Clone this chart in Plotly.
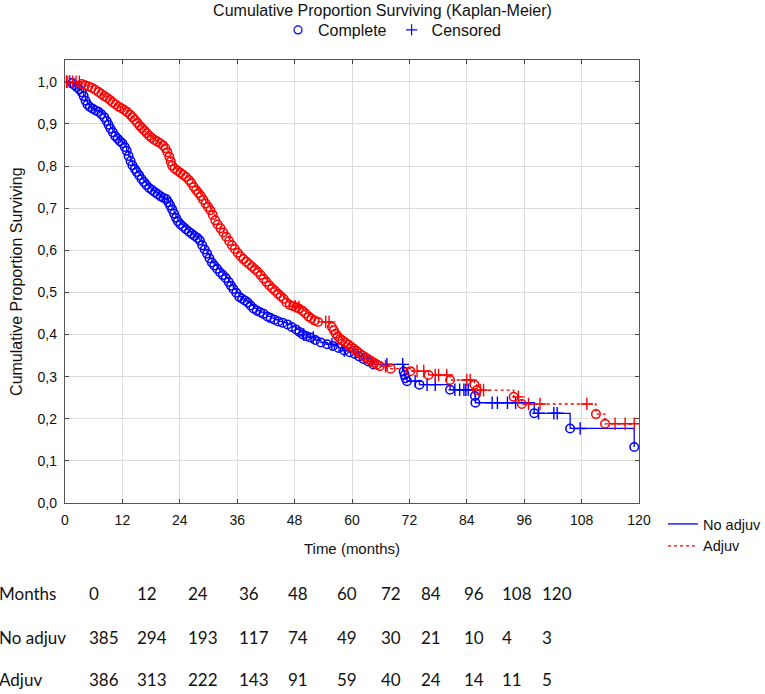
import plotly.graph_objects as go

# ---------------- data ----------------
no_adj_event_t = [1.5, 2.0, 2.5, 3.0, 3.5, 3.9, 4.3, 4.7, 5.2, 5.8, 6.4, 7.0, 7.6, 8.2, 8.7, 9.1, 9.5,
                  10.0, 10.5, 11.0, 11.5, 12.0, 12.5, 12.9, 13.3, 13.7, 14.1, 14.6, 15.0, 15.5, 16.0,
                  16.5, 17.0, 17.6, 18.2, 18.8, 19.4, 20.0, 20.6, 21.2, 21.6, 22.0, 22.4, 22.8, 23.2,
                  23.6, 24.1, 24.7, 25.3, 25.9, 26.5, 27.1, 27.7, 28.2, 28.7, 29.2, 29.7, 30.2, 30.7,
                  31.2, 31.8, 32.4, 33.0, 33.6, 34.2, 34.7, 35.2, 35.8, 36.4, 37.0, 37.6, 38.2, 38.8,
                  39.4, 40.1, 40.8, 41.5, 42.3, 43.0, 43.8, 44.6, 45.5, 46.5, 47.4, 48.3, 49.0, 49.7,
                  50.5, 51.3, 52.3, 53.5, 54.8, 56.0, 57.2, 58.4, 59.5, 60.6, 61.5, 62.4, 63.4, 64.5,
                  70.8, 71.0, 71.2, 71.5, 74.1, 80.5, 85.7, 85.8, 98.1, 105.6, 119.0]
no_adj_event_s = [0.997, 0.992, 0.987, 0.982, 0.975, 0.966, 0.955, 0.946, 0.940, 0.936, 0.932, 0.929,
                  0.923, 0.916, 0.907, 0.898, 0.889, 0.880, 0.871, 0.865, 0.859, 0.854, 0.845, 0.836,
                  0.824, 0.812, 0.802, 0.793, 0.786, 0.778, 0.769, 0.762, 0.755, 0.748, 0.743, 0.738,
                  0.733, 0.728, 0.724, 0.721, 0.714, 0.706, 0.697, 0.687, 0.677, 0.669, 0.662, 0.656,
                  0.650, 0.644, 0.639, 0.634, 0.629, 0.623, 0.612, 0.602, 0.592, 0.581, 0.571, 0.564,
                  0.556, 0.548, 0.541, 0.534, 0.525, 0.516, 0.508, 0.499, 0.490, 0.485, 0.481, 0.476,
                  0.469, 0.462, 0.457, 0.453, 0.449, 0.443, 0.439, 0.435, 0.431, 0.428, 0.424, 0.418,
                  0.412, 0.406, 0.400, 0.396, 0.393, 0.387, 0.381, 0.377, 0.373, 0.368, 0.362, 0.358,
                  0.354, 0.348, 0.342, 0.336, 0.329, 0.312, 0.304, 0.296, 0.289, 0.281, 0.269, 0.254,
                  0.238, 0.213, 0.177, 0.133]
no_adj_cens_t = [0.4, 1.0, 49.9, 51.9, 55.8, 58.4, 67.3, 70.6, 73.2, 75.7, 77.4, 81.5, 82.5, 83.4,
                 83.8, 84.3, 89.3, 90.4, 92.5, 94.2, 99.0, 102.2, 102.9, 107.7]

adj_event_t = [3.5, 4.2, 4.9, 5.6, 6.3, 7.0, 7.6, 8.2, 8.8, 9.4, 10.0, 10.6, 11.2, 11.8, 12.4, 13.0,
               13.6, 14.1, 14.6, 15.1, 15.6, 16.1, 16.6, 17.1, 17.6, 18.1, 18.7, 19.3, 19.9, 20.5,
               21.0, 21.4, 21.8, 22.1, 22.4, 22.9, 23.5, 24.1, 24.7, 25.3, 25.9, 26.4, 26.9, 27.4,
               27.9, 28.4, 28.9, 29.4, 29.9, 30.4, 30.9, 31.4, 31.9, 32.5, 33.1, 33.7, 34.3, 34.9,
               35.5, 36.1, 36.7, 37.3, 37.9, 38.5, 39.1, 39.7, 40.3, 40.9, 41.5, 42.1, 42.7, 43.3,
               43.9, 44.5, 45.1, 45.7, 46.3, 47.0, 47.7, 48.4, 49.0, 49.7, 50.3, 50.9, 51.5, 52.2,
               52.9, 55.8, 56.2, 56.6, 57.0, 57.5, 58.0, 58.6, 59.2, 59.8, 60.4, 61.0, 61.6, 62.2,
               62.8, 63.4, 64.0, 64.6, 65.2, 65.8, 68.1, 72.2, 76.0, 80.5, 85.6, 86.1, 93.8, 95.5,
               111.0, 112.9]
adj_event_s = [0.995, 0.992, 0.989, 0.986, 0.981, 0.976, 0.971, 0.966, 0.962, 0.957, 0.951, 0.946,
               0.941, 0.937, 0.933, 0.928, 0.922, 0.916, 0.910, 0.903, 0.896, 0.890, 0.884, 0.878,
               0.872, 0.867, 0.862, 0.858, 0.854, 0.849, 0.842, 0.833, 0.822, 0.811, 0.801, 0.794,
               0.789, 0.784, 0.779, 0.774, 0.767, 0.760, 0.751, 0.743, 0.736, 0.729, 0.720, 0.711,
               0.703, 0.695, 0.684, 0.671, 0.661, 0.652, 0.642, 0.632, 0.622, 0.612, 0.603, 0.594,
               0.586, 0.579, 0.573, 0.567, 0.561, 0.555, 0.549, 0.541, 0.533, 0.525, 0.517, 0.510,
               0.504, 0.497, 0.491, 0.485, 0.476, 0.470, 0.467, 0.465, 0.461, 0.456, 0.450, 0.443,
               0.438, 0.433, 0.430, 0.418, 0.410, 0.402, 0.396, 0.390, 0.386, 0.381, 0.376, 0.371,
               0.366, 0.361, 0.355, 0.350, 0.346, 0.341, 0.337, 0.333, 0.329, 0.325, 0.319, 0.313,
               0.304, 0.292, 0.281, 0.268, 0.252, 0.235, 0.211, 0.188]
adj_cens_t = [0.3, 0.9, 1.6, 2.3, 3.0, 48.1, 48.9, 54.5, 55.2, 67.0, 73.6, 75.0, 77.4, 78.1, 79.8,
              84.0, 84.7, 86.8, 87.5, 94.8, 96.9, 99.3, 109.1, 115.0, 117.1, 119.0]

table_months = [0, 12, 24, 36, 48, 60, 72, 84, 96, 108, 120]
no_adj_at_risk = [385, 294, 193, 117, 74, 49, 30, 21, 10, 4, 3]
adj_at_risk = [386, 313, 222, 143, 91, 59, 40, 24, 14, 11, 5]
row_labels = ["Months", "No adjuv", "Adjuv"]

BLUE = "#0000ff"
RED = "#ff0000"
FONT = "Liberation Sans, Arial, sans-serif"
TFONT = "Lato, Open Sans, sans-serif"
W, H = 765, 694


def step_value(t, ev_t, ev_s):
    s = 1.0
    for et, es in zip(ev_t, ev_s):
        if et <= t:
            s = es
        else:
            break
    return s


def step_path(ev_t, ev_s, cens_t):
    pts = [(t, s) for t, s in zip(ev_t, ev_s)] + [(t, step_value(t, ev_t, ev_s)) for t in cens_t]
    pts.sort()
    return [0.0] + [p[0] for p in pts], [1.0] + [p[1] for p in pts]


fig = go.Figure()

groups = [
    ("No adjuv", no_adj_event_t, no_adj_event_s, no_adj_cens_t, BLUE, "solid"),
    ("Adjuv", adj_event_t, adj_event_s, adj_cens_t, RED, "dot"),
]
for name, et, es, ct, col, dash in groups:
    lx, ly = step_path(et, es, ct)
    fig.add_trace(go.Scatter(x=lx, y=ly, mode="lines", line=dict(color=col, width=1.3, dash=dash, shape="hv"),
                             name=name, legend="legend2", hoverinfo="skip"))
for name, et, es, ct, col, dash in groups:
    fig.add_trace(go.Scatter(x=et, y=es, mode="markers", showlegend=False,
                             marker=dict(symbol="circle-open", size=8.5, color=col, line=dict(width=1.5, color=col))))
    cy = [step_value(t, et, es) for t in ct]
    fig.add_trace(go.Scatter(x=ct, y=cy, mode="markers", showlegend=False,
                             marker=dict(symbol="cross-thin", size=9, color=col, line=dict(width=1.4, color=col))))

# top legend entries
fig.add_trace(go.Scatter(x=[None], y=[None], mode="markers", name="Complete", legend="legend",
                         marker=dict(symbol="circle-open", size=8, color=BLUE, line=dict(width=1.2, color=BLUE))))
fig.add_trace(go.Scatter(x=[None], y=[None], mode="markers", name="Censored", legend="legend",
                         marker=dict(symbol="cross-thin", size=8, color=BLUE, line=dict(width=1.2, color=BLUE))))

# at-risk table
col_px = [87, 135, 186, 237, 286, 335, 379, 419, 462, 500, 540]
row_py = [596, 641, 684]
L, T, PW, PH = 65, 49, 574, 454


def px_x(p):
    return (p - L) / PW


def px_y(p):
    return (T + PH - p) / PH


rows = [table_months, no_adj_at_risk, adj_at_risk]
annotations = []
for r, (lab, vals) in enumerate(zip(row_labels, rows)):
    annotations.append(dict(x=px_x(-3), y=px_y(row_py[r]), xref="paper", yref="paper", text=lab,
                            showarrow=False, xanchor="left", yanchor="middle",
                            font=dict(family=TFONT, size=17, color="#111")))
    for c, v in enumerate(vals):
        annotations.append(dict(x=px_x(col_px[c]), y=px_y(row_py[r]), xref="paper", yref="paper",
                                text=str(v), showarrow=False, xanchor="left", yanchor="middle",
                                font=dict(family=TFONT, size=17, color="#111")))

fig.update_layout(
    width=W, height=H,
    margin=dict(l=L, r=W - L - PW, t=T, b=H - T - PH),
    paper_bgcolor="white", plot_bgcolor="white",
    separators=",.",
    font=dict(family=FONT, size=14, color="#111"),
    title=dict(text="Cumulative Proportion Surviving (Kaplan-Meier)", x=0.5, xanchor="center",
               y=1 - 10 / H, yanchor="middle", font=dict(family=FONT, size=16, color="#111")),
    legend=dict(orientation="h", xref="container", yref="container", x=392 / W, xanchor="center",
                y=1 - 30 / H, yanchor="middle",
                font=dict(family=FONT, size=16), bgcolor="rgba(0,0,0,0)", itemwidth=30,
                tracegroupgap=0),
    legend2=dict(orientation="v", xref="container", yref="container", x=663 / W, xanchor="left",
                 y=1 - 508 / H, yanchor="top",
                 font=dict(family=FONT, size=14.5), bgcolor="rgba(0,0,0,0)", itemwidth=30,
                 tracegroupgap=0),
    annotations=annotations,
    xaxis=dict(range=[0, 120], tickmode="array", tickvals=table_months, ticks="inside", ticklen=4,
               showgrid=True, gridcolor="#dcdcdc", gridwidth=1, zeroline=False,
               showline=True, linecolor="#555", linewidth=1.3, mirror="ticks",
               tickfont=dict(family=FONT, size=14), ticklabelstandoff=4,
               title=dict(text="Time (months)", standoff=16, font=dict(family=FONT, size=15))),
    yaxis=dict(range=[0, 1.051], tickmode="array", tickvals=[i / 10 for i in range(11)], tickformat=".1f",
               ticks="inside", ticklen=4, showgrid=True, gridcolor="#dcdcdc", gridwidth=1, zeroline=False,
               showline=True, linecolor="#555", linewidth=1.3, mirror="ticks",
               tickfont=dict(family=FONT, size=14), ticklabelstandoff=4,
               title=dict(text="Cumulative Proportion Surviving", standoff=10, font=dict(family=FONT, size=16))),
)

fig.write_html("out.html", config={"displayModeBar": False},
               post_script="document.body.style.margin='0px';")
